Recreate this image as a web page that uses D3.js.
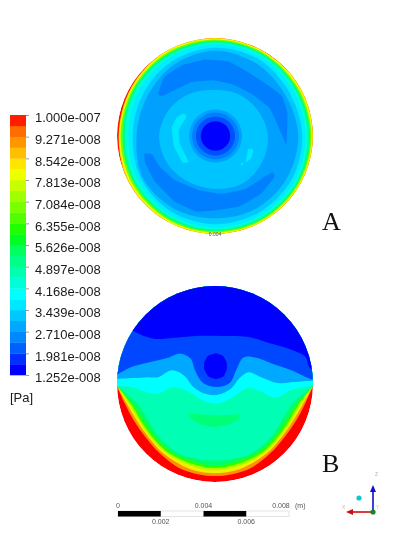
<!DOCTYPE html>
<html lang="en">
<head>
<meta charset="utf-8">
<title>Pressure contours</title>
<script type="text/javascript" src="https://cdn.jsdelivr.net/npm/d3@7/dist/d3.min.js"></script>
<style>
html, body { margin: 0; padding: 0; background: #fff; }
svg { display: block; filter: blur(0.3px); }
</style>
</head>
<body>
<div id="chart"></div>
<script type="text/javascript">

var w = 399, h = 534;

// legend levels, top to bottom
var levelLabels = ["1.000e-007","9.271e-008","8.542e-008","7.813e-008","7.084e-008","6.355e-008","5.626e-008",
	"4.897e-008","4.168e-008","3.439e-008","2.710e-008","1.981e-008","1.252e-008"];
// 24 bands, bottom to top
var bandColors = ["#0000ff","#0030ff","#0060ff","#0088ff","#00a8ff","#00c8ff","#00e8ff","#00ffff",
	"#00ffd8","#00ffb0","#00ff88","#00ff60","#00ff20","#20ff00","#50ff00","#78ff00",
	"#a0ff00","#c8ff00","#f0ff00","#ffe600","#ffbf00","#ff9600","#ff6c00","#ff4000"];
bandColors[23] = "#ff1e00";

// panel A: rings as radius (% of disc radius) every 30 degrees clockwise from the top
var ringAngles = d3.range(0, 360, 30);
var ringsA = [
	{color: "#ffc800", r: [100.5,99.7,100.5,100.5,100.5,100.5,100.5,100.5,100.5,98.3,98.8,100.5]},
	{color: "#f0ff00", r: [99.5,99.2,99.5,99.5,99.5,99.5,99.5,99.5,99.2,97.6,98,99.5]},
	{color: "#70ff00", r: [98.4,98.2,98,98.4,98.4,98.4,98.4,98,97.5,96.5,96.8,98]},
	{color: "#00ff88", r: [97.2,97,96.5,97,97.2,97.2,97.2,96.5,95.5,94.5,95.5,96.5]},
	{color: "#00ffd8", r: [95.5,95.5,94.5,94.5,95.5,95.5,95.5,94.5,93.5,92,93.5,94.5]},
	{color: "#00ecff", r: [93.5,93.5,92.5,92.5,93.5,93.5,93.5,92.5,90.5,88.5,90.5,92.5]},
	{color: "#00c8ff", r: [90,90,88,89,90,90,90,89,87,84,85,88]},
	{color: "#00a0ff", r: [87,85,83,85,85,85,84,85,85,80,80,84]}
];
var innerRingA = {color: "#00c4ff", r: [47,49,51,54,55,56,54,54,56,57,54,50]};
var coreRingsA = [
	{color: "#00a0ff", r: [27,27,27,27,27,27,27,27,27,27,27,27]},
	{color: "#0080ff", r: [24,24,24,24,24,24,24,24,24,24,24,24]},
	{color: "#0050ff", r: [20,20,20,20,20,20,20,20,20,20,20,20]},
	{color: "#0000ff", r: [15,15,15,15,15,15,15,15,15,15,15,15]}
];
// panel A: loose patches, x and y in % of disc radius
var patchTopA = [[-58,43],[-52,60],[-34,72],[-10,78],[14,76],[34,65],[54,52],[68,41],[74,23],[73,-9],[68,2],[56,28],[37,43],[17,53],[-3,57],[-24,55],[-53,41]];
var patchBottomA = [[-72,-18],[-64,-19],[-56,-32],[-41,-45],[-17,-55],[7,-59],[31,-54],[58,-37],[61,-41],[47,-59],[24,-72],[0,-76],[-19,-77],[-41,-67],[-61,-47],[-71,-28]];
var crescentA = [[-32,23],[-29,20],[-37,6],[-36,-8],[-27,-26],[-33,-27],[-42,-10],[-44,9],[-39,19]];
var speckA = [[34,-13],[39,-14],[37,-23],[31,-27],[33,-18]];
var dotA = [[26,-29],[29,-26],[28,-30]];

// panel B: lower edge of each region, left half of the U (mirrored for the right)
var uOrange = [[-100,-2],[-92,-20],[-83,-37],[-71,-54],[-56,-71],[-34,-87],[0,-94]];
var uYellow = [[-100,-2],[-90,-20],[-80,-37],[-68,-54],[-52.5,-71],[-25,-87],[0,-91]];
var uLime = [[-100,-2],[-88,-20],[-78,-37],[-66,-54],[-49,-71],[-20,-85],[0,-88]];
var uGreen = [[-100,-2],[-86,-20],[-76,-37],[-64,-54],[-46.4,-71],[-22,-82],[0,-85.8]];
var uSpring = [[-100,-2],[-84,-20],[-73,-37],[-61,-54],[-42,-71],[-22,-79],[0,-83.4]];
var uMain = [[-100,-2],[-79,-20],[-68,-37],[-57,-54],[-37,-71],[-22,-75.5],[0,-78]];
// panel B: edges across the disc, left to right
var edgeCyan = [[-104,-2],[-85,-3],[-71,-8],[-59,-10],[-42,-3],[-27,-8],[-14,-16],[2,-20],[17,-14],[34,-4],[47,-8],[61,-14],[78,-6],[92,-3],[104,-1]];
var edgeSky = [[-104,5],[-85,6],[-68,7],[-58,7],[-44,14],[-32,9],[-22,-3],[-10,-10],[3,-11],[17,-4],[25,6],[34,12],[47,7],[64,1],[81,2],[104,4]];
var edgeBlue = [[-104,7],[-86,17],[-68,22],[-47,27],[-36,31],[-25,26],[-20,13],[-12,1],[2,-3],[15,1],[22,15],[29,27],[41,27],[58,21],[78,14],[95,6],[104,3]];
var edgeDark = [[-90,60],[-83,54],[-75,50],[-61,46],[-44,47],[-20,49],[7,49],[34,48],[58,41],[78,35],[92,28],[97,16],[110,10]];
var blobB = [[1,31.5],[8,29],[12,22],[12,15],[9,8],[1,5],[-7,8],[-11,15],[-11,22],[-7,29]];
var patchB = [[-27,-30.5],[-14,-31],[7,-32],[24,-31],[25,-35],[15,-41],[0,-44],[-15,-41],[-25,-35]];

// scale bar
var barTicksTop = [0, 0.004, 0.008];
var barTicksBottom = [0.002, 0.006];
var barSegments = [[0,0.002],[0.004,0.006]];

var svg = d3.select("#chart").append("svg")
	.attr("width", w)
	.attr("height", h);

//legend
var yLegend = d3.scaleLinear().domain([0, 24]).range([375, 115]);

svg.append("g").selectAll("rect")
	.data(bandColors)
	.enter()
	.append("rect")
	.attr("x", 10)
	.attr("width", 16)
	.attr("y", function(d, i) { return yLegend(i + 1); })
	.attr("height", yLegend(0) - yLegend(1) + 0.3)
	.attr("fill", function(d) { return d; });

var yLabels = d3.scalePoint().domain(levelLabels).range([115, 375]);
var legendAxis = svg.append("g")
	.attr("transform", "translate(26,0)")
	.call(d3.axisRight(yLabels).tickSize(3).tickPadding(6));
legendAxis.select(".domain").remove();
legendAxis.selectAll("line").attr("stroke", "#999");
legendAxis.selectAll("text")
	.attr("y", 2.5)
	.attr("fill", "#1a1a1a")
	.style("font-family", "'Liberation Sans'")
	.style("font-size", "13px");

svg.append("text")
	.attr("x", 10)
	.attr("y", 402)
	.attr("fill", "#1a1a1a")
	.style("font-family", "'Liberation Sans'")
	.style("font-size", "13px")
	.text("[Pa]");

function makePanel(id, cx, cy, R) {
	var x = d3.scaleLinear().domain([-100, 100]).range([cx - R, cx + R]);
	var y = d3.scaleLinear().domain([-100, 100]).range([cy + R, cy - R]);
	var rad = d3.scaleLinear().domain([0, 100]).range([0, R]);

	svg.append("clipPath").attr("id", id)
		.append("circle").attr("cx", cx).attr("cy", cy).attr("r", R);

	var g = svg.append("g").attr("clip-path", "url(#" + id + ")");
	return {
		g: g,
		disc: function(color) {
			g.append("circle").attr("cx", cx).attr("cy", cy).attr("r", R).attr("fill", color);
		},
		ring: function(ring, ox) {
			var line = d3.lineRadial()
				.angle(function(d, i) { return ringAngles[i] * Math.PI / 180; })
				.radius(function(d) { return rad(d); })
				.curve(d3.curveCardinalClosed);
			g.append("path")
				.attr("transform", "translate(" + (cx + (ox || 0)) + "," + cy + ")")
				.attr("d", line(ring.r))
				.attr("fill", ring.color);
		},
		shape: function(points, color) {
			var line = d3.line()
				.x(function(d) { return x(d[0]); })
				.y(function(d) { return y(d[1]); })
				.curve(d3.curveCardinalClosed.tension(0.7));
			g.append("path").attr("d", line(points)).attr("fill", color);
		},
		// region above an edge, closed over the top of the disc
		above: function(edge, color) {
			var line = d3.line()
				.x(function(d) { return x(d[0]); })
				.y(function(d) { return y(d[1]); })
				.curve(d3.curveCatmullRom.alpha(0.5));
			var top = "L" + x(edge[edge.length - 1][0]) + "," + y(120) + "L" + x(edge[0][0]) + "," + y(120) + "Z";
			g.append("path").attr("d", line(edge) + top).attr("fill", color);
		}
	};
}

function mirrored(half) {
	var right = half.slice(0, -1).reverse().map(function(d) { return [-d[0], d[1]]; });
	return half.concat(right);
}

//panel A
var panelA = makePanel("discA", 215, 136, 98);
panelA.disc("#ff1400");
ringsA.forEach(function(r) { panelA.ring(r); });
panelA.shape(patchTopA, "#0080ff");
panelA.shape(patchBottomA, "#0080ff");
panelA.ring(innerRingA);
panelA.shape(crescentA, "#00e8ff");
panelA.shape(speckA, "#00e8ff");
panelA.shape(dotA, "#00e8ff");
coreRingsA.forEach(function(r) { panelA.ring(r, 0.5); });

//panel B
var panelB = makePanel("discB", 215, 384, 98);
panelB.disc("#ff0000");
panelB.above(mirrored(uOrange), "#ff9000");
panelB.above(mirrored(uYellow), "#f0f000");
panelB.above(mirrored(uLime), "#a8ff00");
panelB.above(mirrored(uGreen), "#30ff00");
panelB.above(mirrored(uSpring), "#00ff70");
panelB.above(mirrored(uMain), "#00ffb4");
panelB.shape(patchB, "#00ff78");
panelB.above(edgeCyan, "#00ffff");
panelB.above(edgeSky, "#00a8ff");
panelB.above(edgeBlue, "#0048ff");
panelB.above(edgeDark, "#0000ff");
panelB.shape(blobB, "#0000ff");

//panel letters
svg.append("g").selectAll("text")
	.data([["A", 322, 230], ["B", 322, 472]])
	.enter()
	.append("text")
	.attr("x", function(d) { return d[1]; })
	.attr("y", function(d) { return d[2]; })
	.attr("fill", "#111")
	.style("font-family", "'Liberation Serif'")
	.style("font-size", "26px")
	.text(function(d) { return d[0]; });

// leftover scale text caught under disc A
svg.append("text")
	.attr("x", 215)
	.attr("y", 235.5)
	.attr("text-anchor", "middle")
	.attr("fill", "#555")
	.style("font-family", "'Liberation Sans'")
	.style("font-size", "5px")
	.text("0.004");

//scale bar
var xBar = d3.scaleLinear().domain([0, 0.008]).range([118, 289]);

svg.append("rect")
	.attr("x", xBar(0))
	.attr("y", 511)
	.attr("width", xBar(0.008) - xBar(0))
	.attr("height", 5.5)
	.attr("fill", "#fff")
	.attr("stroke", "#ddd")
	.attr("stroke-width", 0.8);

svg.append("g").selectAll("rect")
	.data(barSegments)
	.enter()
	.append("rect")
	.attr("x", function(d) { return xBar(d[0]); })
	.attr("y", 511)
	.attr("width", function(d) { return xBar(d[1]) - xBar(d[0]); })
	.attr("height", 5.5)
	.attr("fill", "#000");

function barLabels(values, yPos) {
	svg.append("g").selectAll("text")
		.data(values)
		.enter()
		.append("text")
		.attr("x", function(d) { return d == 0.008 ? xBar(d) - 8 : xBar(d); })
		.attr("y", yPos)
		.attr("text-anchor", "middle")
		.attr("fill", "#555")
		.style("font-family", "'Liberation Sans'")
		.style("font-size", "7px")
		.text(function(d) { return d == 0 ? "0" : d3.format(".3f")(d); });
}
barLabels(barTicksTop, 508);
barLabels(barTicksBottom, 524);

svg.append("text")
	.attr("x", 295)
	.attr("y", 508)
	.attr("fill", "#555")
	.style("font-family", "'Liberation Sans'")
	.style("font-size", "7px")
	.text("(m)");

//axis triad
var triad = svg.append("g").attr("transform", "translate(373,512)");

triad.append("line").attr("x1", 0).attr("y1", 0).attr("x2", 0).attr("y2", -21)
	.attr("stroke", "#1010c8").attr("stroke-width", 1.6);
triad.append("path").attr("d", "M0,-27L-3,-20L3,-20Z").attr("fill", "#1010c8");
triad.append("line").attr("x1", 0).attr("y1", 0).attr("x2", -21).attr("y2", 0)
	.attr("stroke", "#c81010").attr("stroke-width", 1.6);
triad.append("path").attr("d", "M-27,0L-20,-3L-20,3Z").attr("fill", "#c81010");
triad.append("circle").attr("r", 2.6).attr("fill", "#108a20");
triad.append("circle").attr("cx", -14).attr("cy", -14).attr("r", 2.6).attr("fill", "#10c8c8");

triad.selectAll("text.label")
	.data([["X", -31, -3, "#f0a0a0"], ["Y", 3, -3, "#a0d8a0"], ["Z", 2, -36, "#b0b0d8"]])
	.enter()
	.append("text")
	.attr("class", "label")
	.attr("x", function(d) { return d[1]; })
	.attr("y", function(d) { return d[2]; })
	.attr("fill", function(d) { return d[3]; })
	.style("font-family", "'Liberation Sans'")
	.style("font-size", "5px")
	.text(function(d) { return d[0]; });

</script>
</body>
</html>
